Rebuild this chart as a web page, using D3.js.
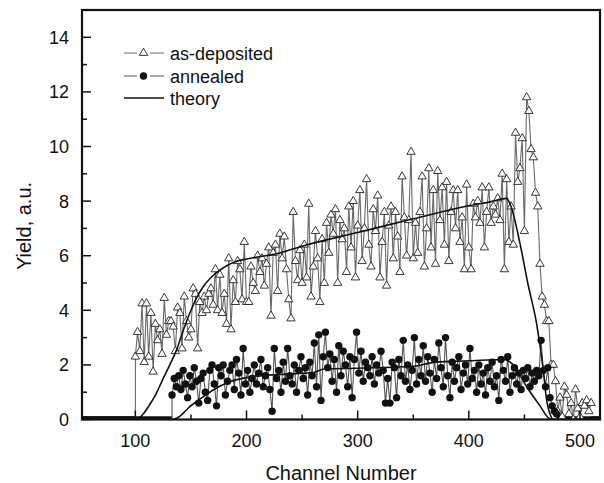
<!DOCTYPE html>
<html lang="en">

<head>
	<meta charset="utf-8">
	<title>D3: Yield vs channel number</title>
	<script type="text/javascript" src="https://cdn.jsdelivr.net/npm/d3@7"></script>
	<style type="text/css">
		body { margin: 0; background: #fff; }
		text { font-family: "Liberation Sans", Arial, sans-serif; fill: #111; }
	</style>
</head>

<body>
	<script type="text/javascript">
		//Width and height
		var w = 604;
		var h = 483;

		// channels are sampled every 2 channels
		var depStart = 100;
		var annStart = 133;
		var channelStep = 2;

		// as-deposited yield, channels 100..510
		var depYield = [
			2.3, 3.2, 2.5, 4.25, 2.1, 4.25, 2.3, 3.9, 1.75, 3.5, 2.9, 3.3, 2.4, 4.45, 3.1, 3.6,
			3.6, 3.4, 2.5, 4.1, 3.9, 2.6, 4.5, 3.6, 3.0, 3.3, 4.8, 4.6, 2.6, 4.3, 3.9, 4.5, 4.0, 4.6, 4.8, 4.2,
			5.5, 4.0, 5.3, 3.9, 4.6, 3.5, 5.9, 3.3, 5.1, 4.3, 5.8, 5.5, 4.4, 6.5, 4.3,
			4.3, 5.6, 5.0, 4.7, 6.0, 5.4, 5.9, 4.9, 5.7, 6.3, 3.8, 6.1, 6.4, 4.7, 6.8, 5.9, 6.7, 5.5, 4.4, 3.7, 7.6, 5.8, 5.1, 6.2, 5.0,
			6.4, 5.2, 7.9, 4.5, 5.6, 6.9, 5.9, 4.3, 6.6, 5.0, 7.2, 6.1, 7.5, 6.8, 7.7, 5.0, 7.3, 6.6, 7.0, 5.4, 7.8, 6.3, 8.0, 5.2, 7.1,
			8.4, 5.8, 7.0, 8.8, 6.4, 5.6, 7.7, 6.9, 8.2, 5.2, 6.5, 7.6, 4.9, 7.1, 7.8, 5.9, 7.6, 6.7, 5.4, 8.9, 7.4, 6.0, 7.3, 9.8, 5.9,
			7.2, 6.1, 7.6, 8.9, 5.6, 7.0, 9.2, 6.3, 8.4, 5.7, 9.1, 7.3, 8.5, 6.4, 8.7, 5.8, 7.6, 8.4, 7.0, 8.4, 6.5, 7.4, 5.5, 8.6, 6.3,
			5.5, 7.9, 7.4, 8.0, 7.2, 8.5, 6.3, 7.6, 8.5, 7.2, 7.8, 7.5, 8.1, 7.3, 9.0, 5.5, 8.8, 6.5, 7.8, 6.4, 10.5, 8.7, 9.2, 10.3, 6.9,
			11.8, 11.3, 9.9, 9.6, 8.3, 7.8, 5.7, 4.5, 4.2, 3.6, 3.6, 2.0, 2.0, 1.4, 0.3, 0.8, 0.1, 1.2, 0.9, 0.2,
			0.6, 0.0, 1.1, 0.4, 0.1, 0.6, 0.5, 0.7, 0.3, 0.6
		];

		// annealed yield, channels 133..479
		var annYield = [
			0.9, 1.5, 1.2, 1.6, 1.1, 1.8, 1.3, 0.8, 1.6, 1.2, 1.9, 1.4, 0.6, 1.5, 1.7,
			1.0, 0.7, 1.8, 2.0, 1.3, 0.5, 1.9, 1.6, 2.0, 0.9, 1.4, 1.8, 2.0, 1.1, 2.2, 1.7, 0.9, 2.6, 1.3,
			1.8, 1.0, 1.5, 2.0, 1.3, 1.7, 2.2, 1.2, 1.6, 1.9, 1.1, 0.3, 2.6, 1.5, 1.8, 1.0, 2.1, 1.4, 2.6, 1.6,
			1.3, 2.0, 1.0, 1.8, 2.3, 1.5, 1.9, 0.9, 2.1, 1.6, 2.8, 1.2, 3.1, 0.7, 2.3, 3.2, 1.9, 2.4, 1.4, 2.2,
			1.0, 2.7, 1.6, 2.5, 2.0, 1.2, 2.3, 0.8, 2.2, 3.2, 1.7, 2.5, 1.4, 2.1, 1.9, 1.6, 2.3, 1.3, 2.0, 1.7,
			2.5, 1.8, 0.6, 1.5, 0.6, 2.1, 1.9, 0.8, 2.2, 1.6, 2.9, 1.4, 2.0, 1.1, 1.8, 3.0, 1.3, 2.2, 1.6, 2.7,
			1.4, 2.3, 1.7, 1.0, 2.2, 1.5, 2.8, 1.9, 1.2, 3.0, 1.6, 0.8, 2.1, 1.4, 1.9, 2.3, 1.1, 1.7, 2.0, 1.3,
			2.6, 1.5, 1.8, 1.0, 2.0, 1.3, 1.7, 0.9, 1.9, 1.4, 2.1, 1.2, 1.6, 0.7, 2.2, 1.8, 1.4, 2.3, 1.0, 1.6,
			1.9, 1.3, 1.7, 1.1, 1.8, 1.5, 1.9, 1.2, 1.7, 1.4, 1.8, 1.6, 2.9, 1.8, 1.2, 1.9, 0.8, 0.5, 0.3, 0.2
		];

		// theory curves (channel, yield)
		var depTheoryCh = [52, 100, 103, 108, 113, 119, 125, 131, 137, 143, 149, 155, 161, 168, 176, 183, 190, 200, 230, 250, 300, 350, 400, 420, 434, 438, 446, 453, 461, 467, 470, 473, 476, 518];
		var depTheoryY = [0, 0, 0.05, 0.25, 0.55, 0.97, 1.5, 2.0, 2.54, 3.25, 3.9, 4.45, 4.86, 5.2, 5.47, 5.65, 5.78, 5.88, 6.1, 6.35, 6.85, 7.35, 7.83, 7.98, 8.1, 7.8, 6.45, 5.0, 3.5, 1.8, 0.7, 0.2, 0, 0];
		var annTheoryCh = [52, 133, 140, 149, 160, 170, 185, 205, 230, 260, 270, 300, 350, 370, 400, 432, 440, 452, 464, 472, 476, 518];
		var annTheoryY = [0, 0, 0.12, 0.47, 0.8, 1.08, 1.38, 1.57, 1.65, 1.72, 1.85, 1.88, 1.95, 2.1, 2.15, 2.2, 2.0, 1.2, 0.5, 0.05, 0, 0];

		// axis ticks
		var xTicks = [100, 200, 300, 400, 500];
		var xMinor = [50, 150, 250, 350, 450];
		var yTicks = [0, 2, 4, 6, 8, 10, 12, 14];
		var yMinor = [1, 3, 5, 7, 9, 11, 13];

		var legendLabels = ["as-deposited", "annealed", "theory"];

		var xMin = 52, xMax = 518;
		var pLeft = 82, pRight = 600, pTop = 10, pBottom = 419.5;

		// build point lists
		var depData = depYield.map(function (d, i) {
			return { ch: depStart + i * channelStep, y: d };
		});
		var annData = annYield.map(function (d, i) {
			return { ch: annStart + i * channelStep, y: d };
		});
		var depTheory = depTheoryCh.map(function (c, i) { return { ch: c, y: depTheoryY[i] }; });
		var annTheory = annTheoryCh.map(function (c, i) { return { ch: c, y: annTheoryY[i] }; });

		// create scales
		var xScale = d3.scaleLinear()
			.domain([xMin, xMax])
			.range([pLeft, pRight]);

		var yScale = d3.scaleLinear()
			.domain([0, 15])
			.range([pBottom, pTop]);

		//Create SVG element
		var svg = d3.select("body")
			.append("svg")
			.attr("width", w)
			.attr("height", h);

		svg.append("clipPath")
			.attr("id", "plot")
			.append("rect")
			.attr("x", pLeft)
			.attr("y", pTop)
			.attr("width", pRight - pLeft)
			.attr("height", pBottom - pTop);

		var plot = svg.append("g").attr("clip-path", "url(#plot)");

		var line = d3.line()
			.x(function (d) { return xScale(d.ch); })
			.y(function (d) { return yScale(d.y); });

		// zero runs before and after the measured data
		var depEnd = depStart + (depYield.length - 1) * channelStep;
		var annEnd = annStart + (annYield.length - 1) * channelStep;
		[[xMin, depStart], [xMin, annStart], [annEnd, xMax], [depEnd, xMax]]
			.forEach(function (r) {
				plot.append("line")
					.attr("x1", xScale(r[0]))
					.attr("x2", xScale(r[1]))
					.attr("y1", yScale(0) - 1.5)
					.attr("y2", yScale(0) - 1.5)
					.attr("stroke", "#111")
					.attr("stroke-width", 3.5);
			});

		// as-deposited
		plot.append("path")
			.datum([{ ch: depStart, y: 0 }].concat(depData))
			.attr("d", line)
			.attr("fill", "none")
			.attr("stroke", "#6a6a6a")
			.attr("stroke-width", 1.1);

		var tri = d3.symbol().type(d3.symbolTriangle).size(30);

		plot.selectAll(".dep")
			.data(depData)
			.enter()
			.append("path")
			.attr("class", "dep")
			.attr("d", tri)
			.attr("transform", function (d) {
				return "translate(" + xScale(d.ch) + "," + yScale(d.y) + ")";
			})
			.attr("fill", "white")
			.attr("stroke", "#222")
			.attr("stroke-width", 0.9);

		// annealed
		plot.append("path")
			.datum([{ ch: annStart, y: 0 }].concat(annData))
			.attr("d", line)
			.attr("fill", "none")
			.attr("stroke", "#555")
			.attr("stroke-width", 1.1);

		plot.selectAll(".ann")
			.data(annData)
			.enter()
			.append("circle")
			.attr("class", "ann")
			.attr("cx", function (d) { return xScale(d.ch); })
			.attr("cy", function (d) { return yScale(d.y); })
			.attr("r", 3.7)
			.attr("fill", "#111");

		// theory
		var curve = d3.line()
			.x(function (d) { return xScale(d.ch); })
			.y(function (d) { return yScale(d.y); })
			.curve(d3.curveMonotoneX);

		[depTheory, annTheory].forEach(function (t) {
			plot.append("path")
				.datum(t)
				.attr("d", curve)
				.attr("fill", "none")
				.attr("stroke", "#111")
				.attr("stroke-width", 1.6);
		});

		// frame
		svg.append("rect")
			.attr("x", pLeft)
			.attr("y", pTop)
			.attr("width", pRight - pLeft)
			.attr("height", pBottom - pTop)
			.attr("fill", "none")
			.attr("stroke", "#111")
			.attr("stroke-width", 2.2);

		// x ticks (inward)
		svg.selectAll(".xt")
			.data(xTicks.concat(xMinor).filter(function (d) { return d > xMin && d < xMax; }))
			.enter()
			.append("line")
			.attr("x1", function (d) { return xScale(d); })
			.attr("x2", function (d) { return xScale(d); })
			.attr("y1", pBottom)
			.attr("y2", function (d) { return pBottom - (xTicks.indexOf(d) >= 0 ? 9 : 5); })
			.attr("stroke", "#111")
			.attr("stroke-width", 1.5);

		svg.selectAll(".xl")
			.data(xTicks)
			.enter()
			.append("text")
			.text(function (d) { return d; })
			.attr("x", function (d) { return xScale(d); })
			.attr("y", 447)
			.attr("text-anchor", "middle")
			.attr("font-size", "18px");

		// y ticks (inward)
		svg.selectAll(".yt")
			.data(yTicks.concat(yMinor))
			.enter()
			.append("line")
			.attr("x1", pLeft)
			.attr("x2", function (d) { return pLeft + (yTicks.indexOf(d) >= 0 ? 9 : 5); })
			.attr("y1", function (d) { return yScale(d); })
			.attr("y2", function (d) { return yScale(d); })
			.attr("stroke", "#111")
			.attr("stroke-width", 1.5);

		svg.selectAll(".yl")
			.data(yTicks)
			.enter()
			.append("text")
			.text(function (d) { return d; })
			.attr("x", 69)
			.attr("y", function (d) { return yScale(d) + 6.5; })
			.attr("text-anchor", "end")
			.attr("font-size", "18px");

		// axis titles
		svg.append("text")
			.text("Channel Number")
			.attr("x", (pLeft + pRight) / 2)
			.attr("y", 480)
			.attr("text-anchor", "middle")
			.attr("font-size", "20px");

		svg.append("text")
			.text("Yield, a.u.")
			.attr("transform", "translate(31,226) rotate(-90)")
			.attr("text-anchor", "middle")
			.attr("font-size", "20px");

		// legend
		var legend = svg.append("g");
		var rows = [53, 76, 98];

		legendLabels.forEach(function (lab, i) {
			var y = rows[i];
			legend.append("line")
				.attr("x1", 124).attr("x2", 164)
				.attr("y1", y).attr("y2", y)
				.attr("stroke", i == 2 ? "#111" : (i == 0 ? "#6a6a6a" : "#555"))
				.attr("stroke-width", i == 2 ? 1.6 : 1.2);
			if (i == 0) {
				legend.append("rect")
					.attr("x", 137).attr("y", y - 6).attr("width", 13).attr("height", 12)
					.attr("fill", "white");
				legend.append("path")
					.attr("d", tri)
					.attr("transform", "translate(143.5," + y + ")")
					.attr("fill", "white")
					.attr("stroke", "#222")
					.attr("stroke-width", 0.9);
			}
			if (i == 1) {
				legend.append("rect")
					.attr("x", 137).attr("y", y - 6).attr("width", 13).attr("height", 12)
					.attr("fill", "white");
				legend.append("circle")
					.attr("cx", 143.5).attr("cy", y).attr("r", 3.7)
					.attr("fill", "#111");
			}
			legend.append("text")
				.text(lab)
				.attr("x", 170)
				.attr("y", y + 6.5)
				.attr("font-size", "18px");
		});
	</script>
</body>

</html>
